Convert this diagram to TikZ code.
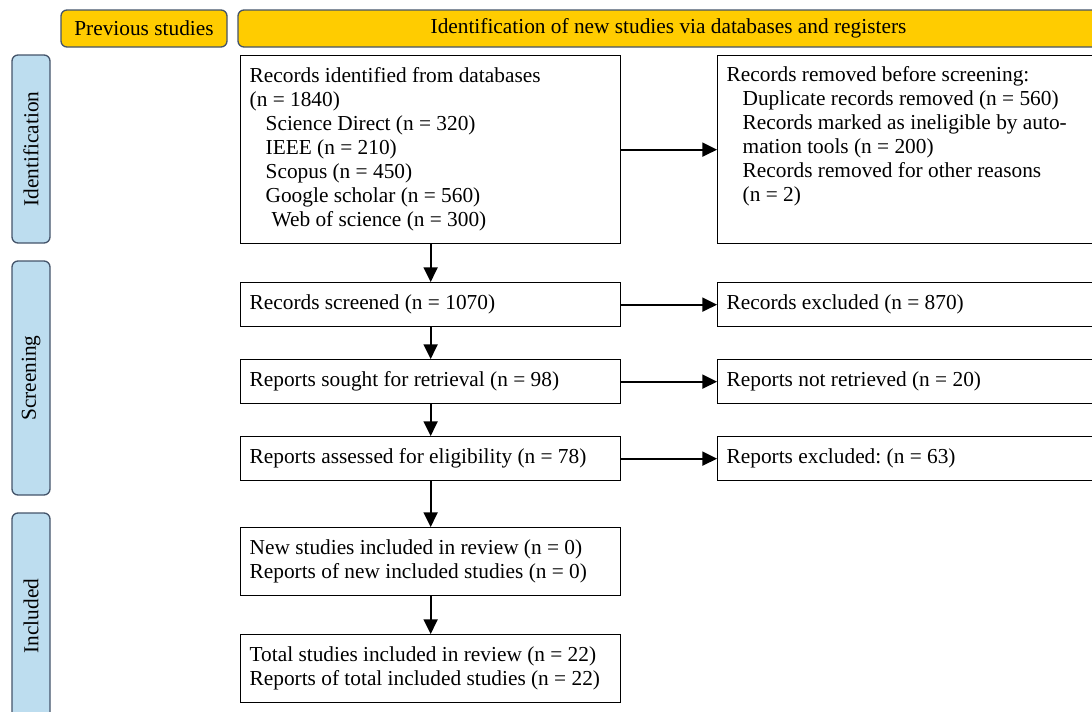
\documentclass[tikz,border=0pt]{standalone}
\usepackage{fontspec}
\setmainfont{Liberation Serif}
\usetikzlibrary{positioning,arrows.meta}
\definecolor{stageblue}{HTML}{BDDDEF}
\definecolor{headgold}{HTML}{FFCC00}
\definecolor{rim}{HTML}{44546A}
\frenchspacing

\begin{document}
\begin{tikzpicture}[x=0.75pt,y=-0.75pt,font=\fontsize{16}{18}\selectfont,
box/.style={draw=black,line width=1pt,inner xsep=6.75pt,inner ysep=0pt,text width=271.5pt,align=flush left,minimum height=33pt},
sidebox/.style={box,text width=286.5pt},
head/.style={draw=rim,fill=headgold,rounded corners=4.5pt,line width=1pt,minimum height=27.75pt,inner sep=0pt},
stage/.style={draw=rim,fill=stageblue,rounded corners=4.5pt,line width=1pt,minimum height=28.5pt,inner sep=0pt,rotate=90},
flow/.style={-{Triangle[length=11pt,width=10.5pt]},line width=1.4pt}]
\clip (0,0) rectangle (1092,711);
% header bars
\node[head,minimum width=124.5pt] (prev) at (144,28.5) {Previous studies};
\node[head,minimum width=645.75pt] (newid) at (668.5,28.5) {Identification of new studies via databases and registers};
% stage labels
\node[stage,minimum width=141pt] (ident) at (31,149) {Identification};
\node[stage,minimum width=175.5pt] (screen) at (31,378) {Screening};
\node[stage,minimum width=154.5pt] (incl) at (31,616) {Included};
% main column
\node[box,anchor=north west,minimum height=141pt] (found) at (240,55) {Records identified from databases\\(n = 1840)\\
\hspace*{12pt}Science Direct (n = 320)\\\hspace*{12pt}IEEE (n = 210)\\\hspace*{12pt}Scopus (n = 450)\\
\hspace*{12pt}Google scholar (n = 560)\\\hspace*{16.5pt}Web of science (n = 300)};
\node[box,below=28.25pt of found] (screened) {Records screened (n = 1070)};
\node[box,below=23.75pt of screened] (sought) {Reports sought for retrieval (n = 98)};
\node[box,below=23.75pt of sought] (assessed) {Reports assessed for eligibility (n = 78)};
\node[box,below=34.25pt of assessed,minimum height=51pt] (newinc) {New studies included in review (n = 0)\\Reports of new included studies (n = 0)};
\node[box,below=28.25pt of newinc,minimum height=51pt] (total) {Total studies included in review (n = 22)\\Reports of total included studies (n = 22)};
% side column
\node[sidebox,right=71.75pt of found,minimum height=141pt] (removed) {Records removed before screening:\\
\hspace*{12pt}Duplicate records removed (n = 560)\\\hspace*{12pt}Records marked as ineligible by auto-\\
\hspace*{12pt}mation tools (n = 200)\\\hspace*{12pt}Records removed for other reasons\\\hspace*{12pt}(n = 2)\\\strut};
\node[sidebox,right=71.75pt of screened] (excluded) {Records excluded (n = 870)};
\node[sidebox,right=71.75pt of sought] (notret) {Reports not retrieved (n = 20)};
\node[sidebox,right=71.75pt of assessed] (repexcl) {Reports excluded: (n = 63)};
% arrows
\draw[flow] (found) -- (screened);
\draw[flow] (screened) -- (sought);
\draw[flow] (sought) -- (assessed);
\draw[flow] (assessed) -- (newinc);
\draw[flow] (newinc) -- (total);
\draw[flow] (found) -- (removed);
\draw[flow] (screened) -- (excluded);
\draw[flow] (sought) -- (notret);
\draw[flow] (assessed) -- (repexcl);
\end{tikzpicture}
\end{document}
